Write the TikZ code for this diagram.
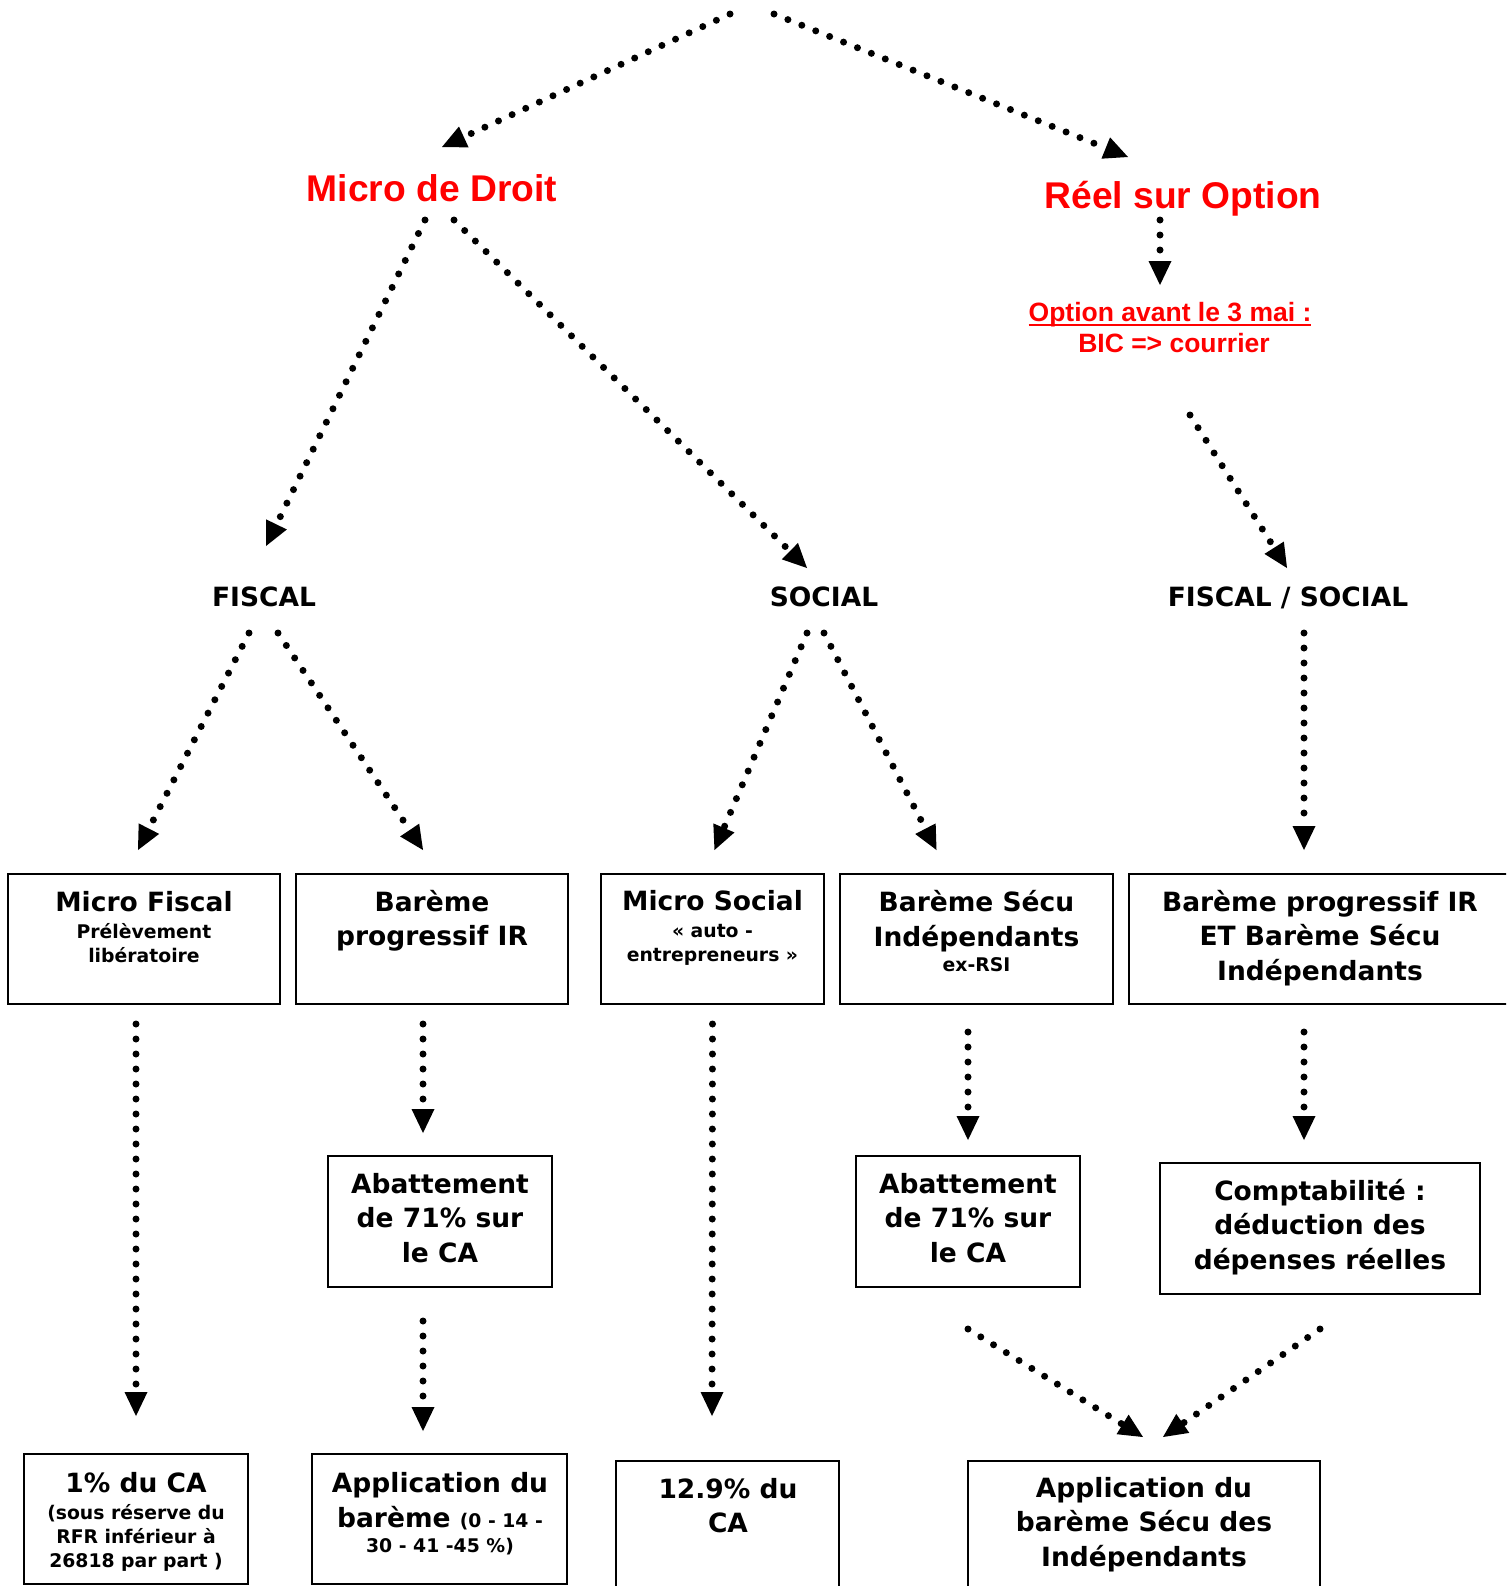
\documentclass[tikz,border=0pt]{standalone}
\usepackage{fontspec}
\setmainfont{DejaVu Sans}
\newfontfamily\redfont{Liberation Sans}
\usetikzlibrary{arrows.meta,calc}
\newcommand\szL{\fontsize{13.25pt}{17.2pt}\selectfont}
\newcommand\szS{\fontsize{9.4pt}{12pt}\selectfont}
\newcommand\szR{\fontsize{18.6pt}{22pt}\selectfont}
\newcommand\szO{\fontsize{13.25pt}{15.5pt}\selectfont}
\newcommand\myul[1]{\leavevmode\setbox0=\hbox{#1}\rlap{\rule[-2.6pt]{\wd0}{1.3pt}}\box0}
\begin{document}
\begin{tikzpicture}[x=0.5pt,y=-0.5pt,
  box/.style={draw=black, line width=1pt, inner sep=0pt, outer sep=0pt},
  lbl/.style={font=\bfseries\szL, inner sep=0pt, anchor=base, align=center},
  ttl/.style={font=\redfont\bfseries\szR, text=red, inner sep=0pt, anchor=base},
  arr/.style={line width=3.5pt, line cap=round, dash pattern=on 0pt off 7.5pt,
    -{Triangle[length=12pt,width=11.5pt,line width=0pt]}}]
\fill[white] (0,0) rectangle (1506,1586);
\useasboundingbox (0,0) rectangle (1506,1586);
\clip (0,0) rectangle (1506,1586);

% titles (multi-line nodes are placed at the baseline of their last line)
\node[ttl] (mdd) at (432,201) {Micro de Droit};
\node[ttl] (reel) at (1183,208) {Réel sur Option};
\node[font=\redfont\bfseries\szO, text=red, inner sep=0pt, anchor=base, align=center] (opt) at (1170,352)
  {\myul{Option avant le 3 mai :}\\\hspace*{4pt}BIC => courrier};
\node[lbl] (fis) at (264,606) {FISCAL};
\node[lbl] (soc) at (824,606) {SOCIAL};
\node[lbl] (fs) at (1288,606) {FISCAL / SOCIAL};

% row 1 boxes
\node[box, minimum width=136pt, minimum height=65pt] (mf) at (144,939) {};
\node[box, minimum width=136pt, minimum height=65pt] (bp) at (432,939) {};
\node[box, minimum width=111.5pt, minimum height=65pt] (ms) at (712.5,939) {};
\node[box, minimum width=136.5pt, minimum height=65pt] (bs) at (976.5,939) {};
\node[box, minimum width=195.5pt, minimum height=65pt] (bpe) at (1324.5,939) {};
\node[lbl, font=\bfseries\szS] (mft) at (144,962) {{\szL Micro Fiscal}\\[1.5pt]Prélèvement\\libératoire};
\node[lbl] (bpt) at (432,945.5) {Barème\\progressif IR};
\node[lbl, font=\bfseries\szS] (mst) at (712.5,961) {{\szL Micro Social}\\[1.5pt]« auto -\\entrepreneurs »};
\node[lbl] (bst) at (976.5,971) {Barème Sécu\\Indépendants\\[-4.7pt]{\szS ex-RSI}};
\node[lbl] (bpet) at (1320,980) {Barème progressif IR\\ET Barème Sécu\\Indépendants};

% row 2 boxes
\node[box, minimum width=112pt, minimum height=65.5pt] (ab1) at (440,1221.5) {};
\node[box, minimum width=112pt, minimum height=65.5pt] (ab2) at (968,1221.5) {};
\node[box, minimum width=160pt, minimum height=65.5pt] (cpt) at (1320,1228.5) {};
\node[lbl] (ab1t) at (440,1262) {Abattement\\de 71\% sur\\le CA};
\node[lbl] (ab2t) at (968,1262) {Abattement\\de 71\% sur\\le CA};
\node[lbl] (cptt) at (1320,1269) {Comptabilité :\\déduction des\\dépenses réelles};

% row 3 boxes
\node[box, minimum width=112pt, minimum height=65pt] (un) at (136,1519) {};
\node[box, minimum width=127.5pt, minimum height=65pt] (app1) at (439.5,1519) {};
\node[box, minimum width=111.5pt, minimum height=74.5pt] (dz) at (727.5,1535.5) {};
\node[box, minimum width=176pt, minimum height=74.5pt] (app2) at (1144,1535.5) {};
\node[lbl, font=\bfseries\szS] (unt) at (136,1567) {{\szL 1\% du CA}\\[1.5pt](sous réserve du\\RFR inférieur à\\26818 par part )};
\node[lbl] (app1t) at (440,1552) {Application du\\barème {\szS (0 - 14 -}\\[-4.7pt]{\szS 30 - 41 -45 \%)}};
\node[lbl] (dzt) at (728,1532.5) {12.9\% du\\CA};
\node[lbl] (app2t) at (1144,1566) {Application du\\barème Sécu des\\Indépendants};

% connectors
\coordinate (t1) at (730,14);
\coordinate (t2) at (774,14);
\draw[arr] (t1) -- ($(mdd.base)+(10,-54)$);
\draw[arr] (t2) -- ($(reel.base)+(-55,-51)$);
\draw[arr] ($(reel.base)+(-23,12)$) -- ($(opt.base)+(-10,-67)$);
\draw[arr] ($(mdd.base)+(-7,19)$) -- ($(fis.base)+(2,-60)$);
\draw[arr] ($(mdd.base)+(22,19)$) -- ($(soc.base)+(-17,-38)$);
\draw[arr] ($(opt.base)+(20,63)$) -- ($(fs.base)+(-1,-38)$);
\draw[arr] ($(fis.base)+(-15,27)$) -- ($(mf.north)+(-6,-24)$);
\draw[arr] ($(fis.base)+(14,27)$) -- ($(bp.north)+(-9,-24)$);
\draw[arr] ($(soc.base)+(-17,27)$) -- ($(ms.north)+(2,-24)$);
\draw[arr] ($(soc.base)+(0,27)$) -- ($(bs.north)+(-40,-24)$);
\draw[arr] ($(fs.base)+(16,27)$) -- ($(bpe.north)+(-20.5,-24)$);
\draw[arr] ($(mf.south)+(-8,20)$) -- ($(un.north)+(0,-38)$);
\draw[arr] ($(bp.south)+(-9,20)$) -- ($(ab1.north)+(-17,-23)$);
\draw[arr] ($(ab1.south)+(-17,34)$) -- ($(app1.north)+(-16.5,-23)$);
\draw[arr] ($(ms.south)+(0,20)$) -- ($(dz.north)+(-15.5,-45)$);
\draw[arr] ($(bs.south)+(-8.5,28)$) -- ($(ab2.north)+(0,-16)$);
\draw[arr] ($(bpe.south)+(-20.5,28)$) -- ($(cpt.north)+(-16,-23)$);
\draw[arr] ($(ab2.south)+(0,42)$) -- ($(app2.north)+(-1,-24)$);
\draw[arr] ($(cpt.south)+(0,35)$) -- ($(app2.north)+(19,-24)$);
\end{tikzpicture}
\end{document}
